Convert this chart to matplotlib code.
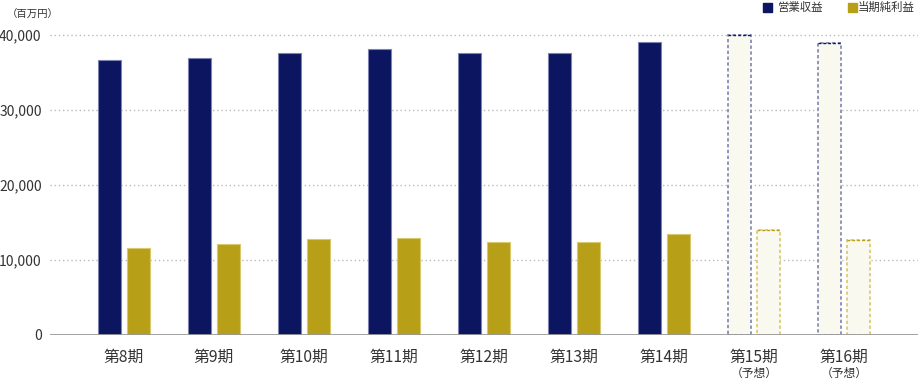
import matplotlib
matplotlib.use("Agg")
import matplotlib.pyplot as plt
import matplotlib.transforms as mtransforms
import numpy as np

plt.rcParams['font.family'] = ['Noto Sans CJK JP', 'DejaVu Sans']

categories = ["第8期", "第9期", "第10期", "第11期", "第12期", "第13期", "第14期", "第15期", "第16期"]
forecast = [False, False, False, False, False, False, False, True, True]
revenue = [36600, 36900, 37600, 38100, 37600, 37600, 39100, 40000, 38900]
net_income = [11600, 12100, 12800, 12900, 12400, 12400, 13500, 14000, 12700]
yticks = [0, 10000, 20000, 30000, 40000]

navy = "#0b1560"
gold = "#b89f18"
navy_edge = "#7d83b3"
gold_edge = "#d9c86c"
fc_fill = "#faf9f0"

fig = plt.figure(figsize=(9.18, 3.8), dpi=100)
ax = fig.add_axes([50/918, 45/380, 868/918, 304/380])

x = np.arange(len(categories))
w = 0.256
off = 0.156
for i in x:
    if forecast[i]:
        ax.bar(i - off, revenue[i], w, color=fc_fill, edgecolor=navy_edge, linestyle=(0, (2, 1.5)), linewidth=1.2, zorder=3)
        ax.bar(i + off, net_income[i], w, color=fc_fill, edgecolor=gold_edge, linestyle=(0, (2, 1.5)), linewidth=1.2, zorder=3)
        ax.plot([i - off - w/2, i - off + w/2], [revenue[i]]*2, color=navy, lw=1.0, ls=(0, (2, 1.5)), zorder=4)
        ax.plot([i + off - w/2, i + off + w/2], [net_income[i]]*2, color=gold, lw=1.0, ls=(0, (2, 1.5)), zorder=4)
    else:
        ax.bar(i - off, revenue[i], w, color=navy, edgecolor=navy_edge, linewidth=0.8, zorder=3)
        ax.bar(i + off, net_income[i], w, color=gold, edgecolor=gold_edge, linewidth=0.8, zorder=3)

ax.set_xlim(-0.822, 8.822)
ax.set_ylim(0, 40530)
ax.set_yticks(yticks)
ax.set_yticklabels([f"{v:,}" for v in yticks], fontsize=10, color="#333333")
ax.tick_params(axis='y', length=0, pad=6)
ax.set_xticks([])
for v in yticks[1:]:
    ax.axhline(v, color="#bbbbbb", lw=1, ls=(0, (1, 2)), zorder=1)
ax.axhline(0, color="#999999", lw=2, zorder=5)
for s in ax.spines.values():
    s.set_visible(False)

trans = mtransforms.blended_transform_factory(ax.transData, fig.transFigure)
for i, c in enumerate(categories):
    ax.text(i, 1 - 357/380, c, transform=trans, ha='center', va='center', fontsize=11.3, color="#333333")
    if forecast[i]:
        ax.text(i, 1 - 373/380, "（予想）", transform=trans, ha='center', va='center', fontsize=8.5, color="#333333")

fig.text(7/918, 1 - 15/380, "（百万円）", ha='left', va='center', fontsize=7.5, color="#333333")

# legend
fig.patches.append(plt.Rectangle((763/918, 1 - 11.5/380), 9/918, 9/380, transform=fig.transFigure, color=navy, figure=fig))
fig.text(778/918, 1 - 7/380, "営業収益", ha='left', va='center', fontsize=8.2, color="#333333")
fig.patches.append(plt.Rectangle((848/918, 1 - 11.5/380), 9/918, 9/380, transform=fig.transFigure, color=gold, figure=fig))
fig.text(915/918, 1 - 7/380, "当期純利益", ha='right', va='center', fontsize=8.2, color="#333333")

fig.savefig("out.png", dpi=100)
